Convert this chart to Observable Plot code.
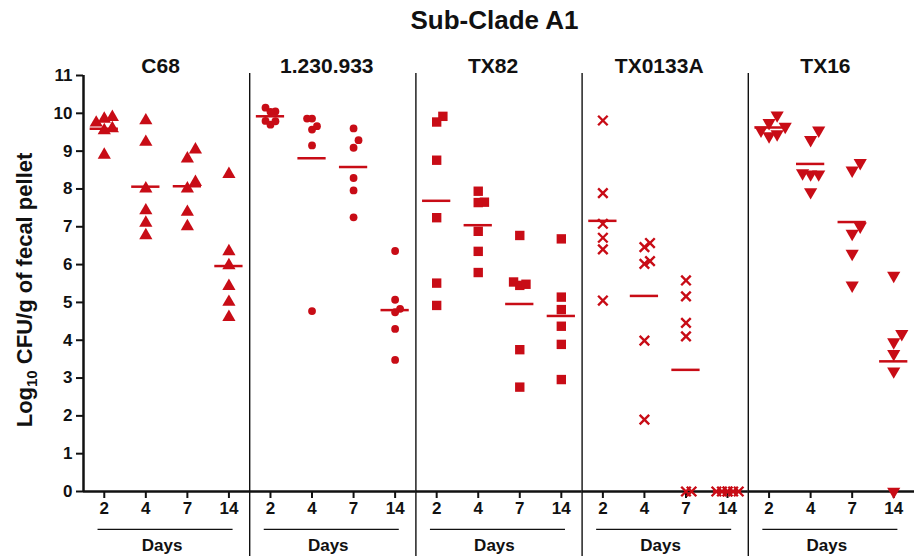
<!DOCTYPE html>
<html>
<head>
<meta charset="utf-8">
<script src="https://cdn.jsdelivr.net/npm/d3@7"></script>
<script src="https://cdn.jsdelivr.net/npm/@observablehq/plot@0.6"></script>
<style>
  html, body { margin: 0; padding: 0; background: #fff; overflow: hidden; }
  #title { height: 45px; box-sizing: border-box; padding-top: 7px; padding-left: 75px;
           text-align: center; font: bold 26px "Liberation Sans", Arial, sans-serif; line-height: 1; color: #111; }
  #chart svg [aria-label="y-axis tick"], #chart svg [aria-label="x-axis tick"] { stroke-width: 2px; }
</style>
</head>
<body>
<div id="title">Sub-Clade A1</div>
<div id="chart"></div>
<script>
// ---- data ----
const strains = ["C68", "1.230.933", "TX82", "TX0133A", "TX16"];
const days = [2, 4, 7, 14];
const yTicks = [0, 1, 2, 3, 4, 5, 6, 7, 8, 9, 10, 11];

// log10 CFU/g per mouse, one inner array per day (2, 4, 7, 14)
const c68 = [
  [9.55, 9.85, 9.60, 9.90, 9.75, 8.90],
  [9.81, 9.24, 8.01, 7.43, 7.10, 6.77],
  [8.18, 8.80, 9.04, 8.01, 7.39, 7.01],
  [8.39, 6.35, 5.98, 5.43, 5.01, 4.61]
];
const s1230933 = [
  [10.15, 10.05, 10.04, 9.80, 9.70, 9.79],
  [9.86, 9.86, 9.57, 9.66, 9.15, 4.77],
  [9.60, 9.29, 9.09, 8.29, 7.96, 7.25],
  [6.36, 5.07, 4.83, 4.74, 4.30, 3.48]
];
const tx82 = [
  [9.92, 9.77, 8.76, 7.24, 5.51, 4.92],
  [7.94, 7.65, 7.64, 6.88, 6.35, 5.79],
  [6.77, 5.54, 5.45, 5.48, 3.75, 2.76],
  [6.68, 5.14, 4.81, 4.37, 3.89, 2.96]
];
const tx0133a = [
  [9.81, 7.89, 7.08, 6.71, 6.40, 5.05],
  [6.57, 6.46, 6.02, 6.09, 3.99, 1.90],
  [5.58, 5.16, 4.46, 4.10, 0, 0],
  [0, 0, 0, 0, 0, 0]
];
const tx16 = [
  [9.95, 9.75, 9.65, 9.55, 9.45, 9.40],
  [9.55, 9.30, 8.39, 8.39, 8.42, 7.92],
  [8.69, 8.49, 7.01, 6.82, 6.29, 5.45],
  [5.71, 4.17, 3.95, 3.64, 3.18, 0]
];
const seriesByStrain = [c68, s1230933, tx82, tx0133a, tx16];

// ---- layout ----
const red = "#c80c16";
const W = 914, H = 515, mT = 30, mB = 69, mL = 83, mR = 0;
const ky = (H - mT - mB) / 11;                 // px per log unit
const kx = (W - mL - mR) / strains.length / 4; // px per day slot

const triangleDown = {
  draw(context, size) {
    const s3 = Math.sqrt(3);
    const y = Math.sqrt(size / (s3 * 3));
    context.moveTo(0, y * 2);
    context.lineTo(-s3 * y, -y);
    context.lineTo(s3 * y, -y);
    context.closePath();
  }
};
const symStyle = {
  "C68":       {symbol: "triangle", r: 4.9, w: 13, h: 11},
  "1.230.933": {symbol: "circle",   r: 3.9, w: 8,  h: 8},
  "TX82":      {symbol: "square",   r: 5.3, w: 10, h: 10},
  "TX0133A":   {symbol: "times",    r: 4.4, w: 9,  h: 9, stroke: true},
  "TX16":      {symbol: triangleDown, r: 4.9, w: 13, h: 11}
};

// simple scatter-dot spreading (avoid overlap), in px
function spread(vals, w, h) {
  const step = w * 0.62;
  const order = d3.range(vals.length).sort((a, b) => vals[a] - vals[b]);
  const placed = [], off = new Array(vals.length).fill(0);
  const ks = [0, 1, -1, 2, -2];
  for (const i of order) {
    const y = vals[i] * ky;
    let best = 0, bestC = Infinity;
    for (const k of ks) {
      const o = k * step;
      const c = placed.filter(p => Math.abs(p.y - y) < h && Math.abs(p.o - o) < step * 0.99).length;
      if (c < bestC) { bestC = c; best = o; }
      if (c === 0) break;
    }
    off[i] = best;
    placed.push({y, o: best});
  }
  return off;
}

const points = [], means = [];
strains.forEach((strain, si) => {
  const st = symStyle[strain];
  seriesByStrain[si].forEach((vals, di) => {
    const off = spread(vals, st.w, st.h);
    vals.forEach((v, j) => points.push({strain, day: di, value: v, x: di + off[j] / kx}));
    means.push({strain, day: di, mean: d3.mean(vals)});
  });
});

const dotMarks = strains.map(strain => {
  const st = symStyle[strain];
  const data = points.filter(p => p.strain === strain);
  return st.stroke
    ? Plot.dot(data, {fx: "strain", x: "x", y: "value", symbol: st.symbol, r: st.r, stroke: red, strokeWidth: 2.4, fill: "none"})
    : Plot.dot(data, {fx: "strain", x: "x", y: "value", symbol: st.symbol, r: st.r, fill: red, stroke: "none"});
});

const chart = Plot.plot({
  width: W, height: H,
  marginTop: mT, marginBottom: mB, marginLeft: mL, marginRight: mR,
  style: {fontFamily: "'Liberation Sans', Arial, sans-serif", fontSize: "17px", fontWeight: "bold", color: "#111", background: "#fff", overflow: "visible"},
  fx: {domain: strains, padding: 0, round: false, axis: null, label: null},
  x: {domain: [-0.5, 3.5], ticks: [0, 1, 2, 3], tickFormat: i => days[i], tickSize: 7, tickPadding: 3, label: null},
  y: {domain: [0, 11], ticks: yTicks, tickFormat: d => d, tickSize: 7, tickPadding: 4, label: null},
  marks: [
    // x axis line
    Plot.ruleY([0], {stroke: "#111", strokeWidth: 2.5}),
    // left y axis line (first panel)
    Plot.ruleX([strains[0]], {fx: d => d, x: () => -0.5, y1: () => 0, y2: () => 11, stroke: "#111", strokeWidth: 2.5}),
    // panel separators
    Plot.ruleX(strains.slice(1), {fx: d => d, x: () => -0.5, y1: () => 11.05, y2: () => -1.72, stroke: "#111", strokeWidth: 1.4}),
    // "Days" underline and label
    Plot.ruleY(strains, {fx: d => d, y: () => -1.0, x1: () => -0.15, x2: () => 3.1, stroke: "#111", strokeWidth: 1.3}),
    Plot.text(strains, {fx: d => d, x: () => 1.39, y: () => -1.43, text: () => "Days", fontSize: 17, fontWeight: "bold", fill: "#111"}),
    // panel titles
    Plot.text(strains, {fx: d => d, text: d => d, frameAnchor: "top", lineAnchor: "bottom", dy: -3, dx: -6, fontSize: 21, fontWeight: "bold", fill: "#111"}),
    // mean lines
    Plot.ruleY(means, {fx: "strain", y: "mean", x1: d => d.day - 0.34, x2: d => d.day + 0.34, stroke: red, strokeWidth: 2.5}),
    ...dotMarks
  ]
});
document.getElementById("chart").appendChild(chart);

// y-axis title with subscript
const svg = d3.select(chart);
const yl = svg.append("text")
  .attr("transform", `translate(32,${(mT + H - mB) / 2 + 7}) rotate(-90)`)
  .attr("text-anchor", "middle")
  .attr("fill", "#111")
  .style("font-size", "22px").style("font-weight", "bold");
yl.append("tspan").text("Log");
yl.append("tspan").attr("dy", 5).style("font-size", "15px").text("10");
yl.append("tspan").attr("dy", -5).text(" CFU/g of fecal pellet");
</script>
</body>
</html>
